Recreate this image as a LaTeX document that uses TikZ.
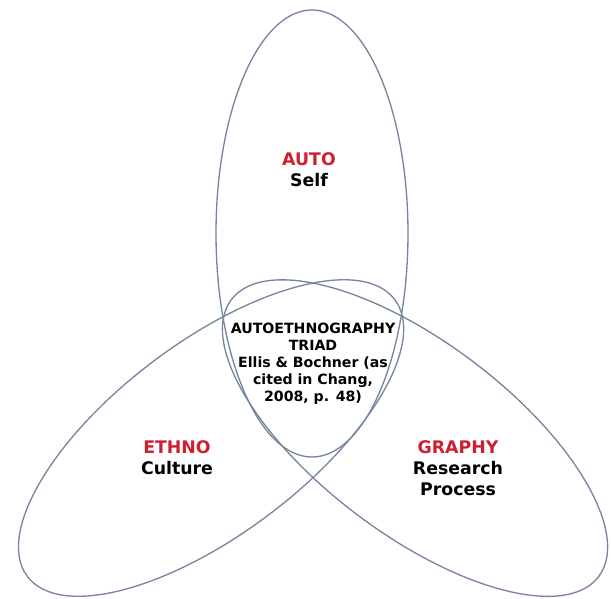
\documentclass[tikz,border=0pt]{standalone}
\usepackage{fontspec}
\setmainfont{DejaVu Sans}
\definecolor{rim}{RGB}{118,134,160}
\definecolor{accent}{RGB}{205,32,48}
\begin{document}
\begin{tikzpicture}[x=0.75pt, y=-0.75pt, line join=round, line cap=round]
	\tikzset{ring/.style={draw=rim, line width=1pt},
		tag/.style={align=center, font=\fontsize{13}{15.75}\selectfont\bfseries},
		core/.style={align=center, font=\fontsize{10.6}{12.75}\selectfont\bfseries}}
	\useasboundingbox (0,0) rectangle (611,599);
	\path (312,233.5)coordinate (S) (211,438)coordinate (C) (415,438)coordinate (R);
	% Ba hinh elip
	\draw[ring] (S) ellipse [x radius=96, y radius=223.5];
	\draw[ring, rotate around={37:(C)}] (C) ellipse [x radius=230, y radius=96];
	\draw[ring, rotate around={-37:(R)}] (R) ellipse [x radius=230, y radius=96];
	% Nhan
	\node[tag] (self) at (309,170) {\textcolor{accent}{AUTO}\\Self};
	\node[tag] (culture) at (177,457.5) {\textcolor{accent}{ETHNO}\\Culture};
	\node[tag] (research) at (458,468) {\textcolor{accent}{GRAPHY}\\Research\\Process};
	\node[core] (triad) at (313,364) {AUTOETHNOGRAPHY\\TRIAD\\Ellis \& Bochner (as\\cited in Chang,\\2008, p. 48)};
\end{tikzpicture}
\end{document}
